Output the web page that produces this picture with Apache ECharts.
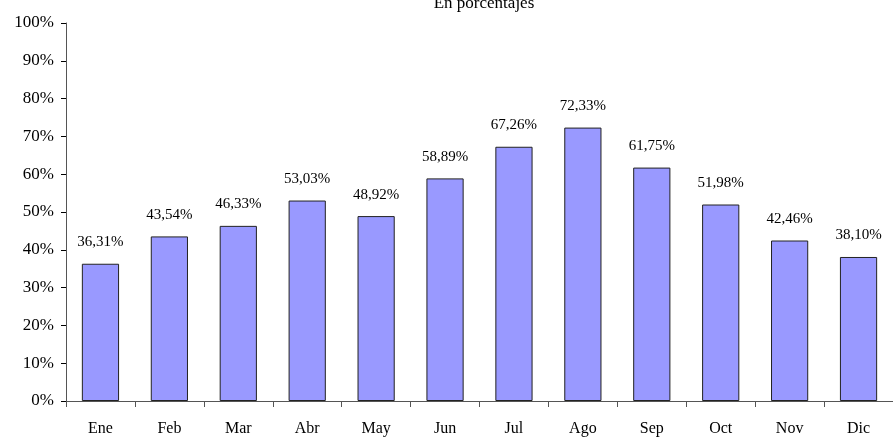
<!DOCTYPE html>
<html>
<head>
<meta charset="utf-8">
<script src="https://cdn.jsdelivr.net/npm/echarts@6/dist/echarts.min.js"></script>
<style>
  html, body { margin: 0; padding: 0; background: #fff; }
  #chart { width: 893px; height: 437px; }
</style>
</head>
<body>
<div id="chart"></div>
<script>
  // months and occupancy values (percent)
  let months = ['Ene', 'Feb', 'Mar', 'Abr', 'May', 'Jun', 'Jul', 'Ago', 'Sep', 'Oct', 'Nov', 'Dic'];
  let values = [36.31, 43.54, 46.33, 53.03, 48.92, 58.89, 67.26, 72.33, 61.75, 51.98, 42.46, 38.10];

  let chart = echarts.init(document.getElementById('chart'));
  let serif = 'Liberation Serif';

  chart.setOption({
    animation: false,
    title: {
      text: 'En porcentajes',
      left: 479,
      textAlign: 'center',
      top: -10,
      textStyle: { fontFamily: serif, fontSize: 17, fontWeight: 'normal', color: '#000' }
    },
    grid: { left: 66, right: 0, top: 23, bottom: 36 },
    xAxis: {
      type: 'category',
      data: months,
      axisLine: { lineStyle: { color: '#555', width: 1 } },
      axisTick: { show: true, length: 6, lineStyle: { color: '#555' } },
      axisLabel: { fontFamily: serif, fontSize: 16, color: '#000', margin: 20 }
    },
    yAxis: {
      type: 'value',
      min: 0,
      max: 100,
      interval: 10,
      splitLine: { show: false },
      axisLine: { show: true, lineStyle: { color: '#555', width: 1 } },
      axisTick: { show: true, length: 5, lineStyle: { color: '#000' } },
      axisLabel: { fontFamily: serif, fontSize: 17, color: '#000', margin: 12, formatter: '{value}%' }
    },
    series: [
      {
        type: 'bar',
        data: values,
        barWidth: '54%',
        itemStyle: { color: '#9999FF', borderColor: '#222', borderWidth: 1 },
        label: {
          show: true,
          position: 'top',
          distance: 14,
          fontFamily: serif,
          fontSize: 15,
          color: '#000',
          formatter: (p) => p.value.toFixed(2).replace('.', ',') + '%'
        }
      }
    ]
  });
</script>
</body>
</html>
